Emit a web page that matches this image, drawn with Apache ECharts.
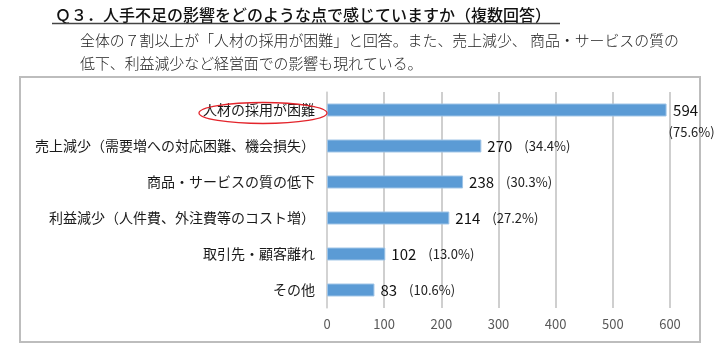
<!DOCTYPE html>
<html>
<head>
<meta charset="utf-8">
<script src="https://cdn.jsdelivr.net/npm/echarts@6/dist/echarts.min.js"></script>
<style>
  html, body { margin: 0; padding: 0; background: #fff; }
  #chart { width: 720px; height: 349px; }
</style>
</head>
<body>
<div id="chart"></div>
<script>
// 人手不足の影響（複数回答）
const categories = [
  '人材の採用が困難',
  '売上減少（需要増への対応困難、機会損失）',
  '商品・サービスの質の低下',
  '利益減少（人件費、外注費等のコスト増）',
  '取引先・顧客離れ',
  'その他'
];
const counts = [594, 270, 238, 214, 102, 83];
const shares = ['75.6', '34.4', '30.3', '27.2', '13.0', '10.6'];
const xTicks = [0, 100, 200, 300, 400, 500, 600];

const FONT = '"Noto Sans CJK JP", "Noto Sans", sans-serif';

const chart = echarts.init(document.getElementById('chart'), null, { renderer: 'canvas' });

chart.setOption({
  backgroundColor: '#ffffff',
  animation: false,
  textStyle: { fontFamily: FONT },
  graphic: [
    {
      type: 'text', x: 55, y: 15,
      style: { text: 'Ｑ３．人手不足の影響をどのような点で感じていますか（複数回答）',
               font: '500 16px ' + FONT, fill: '#111', verticalAlign: 'middle' }
    },
    {
      type: 'line', shape: { x1: 52, y1: 23.5, x2: 560, y2: 23.5 },
      style: { stroke: '#444', lineWidth: 1.5 }
    },
    {
      type: 'text', x: 80, y: 40,
      style: { text: '全体の７割以上が「人材の採用が困難」と回答。また、売上減少、 商品・サービスの質の',
               font: '300 14.9px ' + FONT, fill: '#222', verticalAlign: 'middle' }
    },
    {
      type: 'text', x: 80, y: 63,
      style: { text: '低下、利益減少など経営面での影響も現れている。',
               font: '300 14.9px ' + FONT, fill: '#222', verticalAlign: 'middle' }
    },
    {
      type: 'rect', shape: { x: 20, y: 77, width: 680, height: 265 },
      style: { fill: 'none', stroke: '#bdbdbd', lineWidth: 2 }
    },
    {
      type: 'ellipse', shape: { cx: 263, cy: 113, rx: 64, ry: 10.5 },
      style: { fill: 'none', stroke: '#e3242b', lineWidth: 1.3 }, z: 10
    }
  ],
  grid: { left: 327, right: 50, top: 92, bottom: 41, containLabel: false },
  xAxis: {
    type: 'value', min: xTicks[0], max: xTicks[xTicks.length - 1], interval: 100,
    axisLine: { show: false },
    axisTick: { show: false },
    axisLabel: { color: '#595959', fontSize: 13, margin: 10, fontFamily: FONT },
    splitLine: { lineStyle: { color: '#bfbfbf', width: 1.5 } }
  },
  yAxis: {
    type: 'category', data: categories, inverse: true,
    axisLine: { show: true, lineStyle: { color: '#d4d4d4', width: 1.5 } },
    axisTick: { show: false },
    axisLabel: { color: '#1a1a1a', fontSize: 14, margin: 12, fontFamily: FONT }
  },
  series: [{
    type: 'bar',
    data: counts.map((v, i) => ({
      value: v,
      label: i === 0
        ? { formatter: '{v|{c}}\n{p|(' + shares[i] + '%)}', align: 'center',
            distance: 19, offset: [0, 11] }
        : { formatter: '{v|{c}}{p|(' + shares[i] + '%)}' }
    })),
    barWidth: '36%',
    itemStyle: { color: '#5b9bd5', borderColor: '#9dc3e6', borderWidth: 1 },
    label: {
      show: true, position: 'right', distance: 6,
      rich: {
        v: { fontSize: 15, color: '#111', fontFamily: FONT, lineHeight: 22 },
        p: { fontSize: 13, color: '#222', fontFamily: FONT, lineHeight: 22, padding: [0, 0, 0, 12] }
      }
    }
  }]
});
</script>
</body>
</html>
